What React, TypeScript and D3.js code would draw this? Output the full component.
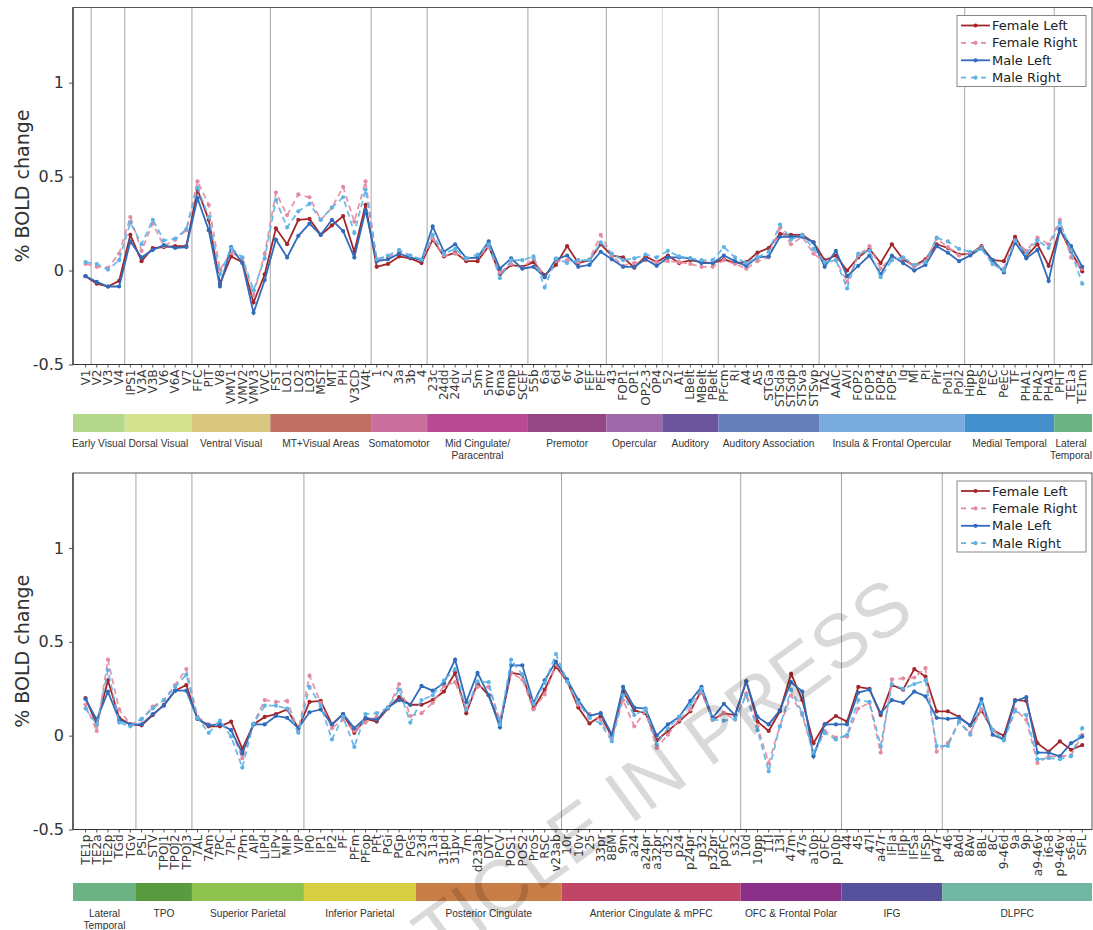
import React, { useEffect, useRef } from 'react';
import * as d3 from 'd3';

// ---- top panel ----
const topLabels = [
  'V1', 'V2', 'V3', 'V4', 'IPS1', 'V3A', 'V3B', 'V6', 'V6A', 'V7',
  'FFC', 'PIT', 'V8', 'VMV1', 'VMV2', 'VMV3', 'VVC', 'FST', 'LO1', 'LO2',
  'LO3', 'MST', 'MT', 'PH', 'V3CD', 'V4t', '1', '2', '3a', '3b',
  '4', '23c', '24dd', '24dv', '5L', '5m', '5mv', '6ma', '6mp', 'SCEF',
  '55b', '6a', '6d', '6r', '6v', 'FEF', 'PEF', '43', 'FOP1', 'OP1',
  'OP2-3', 'OP4', '52', 'A1', 'LBelt', 'MBelt', 'PBelt', 'PFcm', 'RI', 'A4',
  'A5', 'STGa', 'STSda', 'STSdp', 'STSva', 'STSvp', 'TA2', 'AAIC', 'AVI', 'FOP2',
  'FOP3', 'FOP4', 'FOP5', 'Ig', 'MI', 'PI', 'Pir', 'PoI1', 'PoI2', 'Hipp',
  'PreS', 'EC', 'PeEc', 'TF', 'PHA1', 'PHA2', 'PHA3', 'PHT', 'TE1a', 'TE1m',
];

const topFemaleLeft = [
  -0.03, -0.07, -0.085, -0.055, 0.19, 0.05, 0.12, 0.125, 0.13, 0.13,
  0.43, 0.27, -0.07, 0.075, 0.045, -0.17, -0.02, 0.225, 0.14, 0.27,
  0.275, 0.19, 0.24, 0.29, 0.1, 0.35, 0.02, 0.035, 0.075, 0.065,
  0.04, 0.165, 0.075, 0.095, 0.05, 0.05, 0.13, -0.02, 0.03, 0.02,
  0.045, -0.025, 0.03, 0.13, 0.04, 0.055, 0.14, 0.08, 0.07, 0.015,
  0.075, 0.045, 0.08, 0.04, 0.055, 0.045, 0.04, 0.06, 0.04, 0.045,
  0.095, 0.12, 0.195, 0.19, 0.19, 0.15, 0.055, 0.08, 0.0, 0.07,
  0.115, 0.04, 0.14, 0.06, 0.025, 0.06, 0.14, 0.12, 0.085, 0.09,
  0.13, 0.055, 0.05, 0.18, 0.075, 0.14, 0.025, 0.22, 0.1, -0.005,
];
const topFemaleRight = [
  0.035, 0.02, 0.015, 0.09, 0.285, 0.105, 0.25, 0.13, 0.165, 0.215,
  0.475, 0.35, 0.005, 0.095, 0.065, -0.13, 0.09, 0.415, 0.295, 0.405,
  0.39, 0.27, 0.335, 0.445, 0.26, 0.475, 0.055, 0.07, 0.1, 0.08,
  0.055, 0.17, 0.08, 0.09, 0.06, 0.07, 0.125, -0.01, 0.035, 0.015,
  0.065, -0.035, 0.05, 0.055, 0.045, 0.06, 0.19, 0.08, 0.025, 0.04,
  0.055, 0.045, 0.05, 0.045, 0.035, 0.02, 0.02, 0.055, 0.035, 0.01,
  0.05, 0.07, 0.225, 0.14, 0.18, 0.09, 0.045, 0.055, -0.06, 0.08,
  0.13, 0.01, 0.07, 0.065, 0.02, 0.05, 0.17, 0.125, 0.08, 0.09,
  0.125, 0.035, 0.01, 0.16, 0.105, 0.175, 0.14, 0.27, 0.07, 0.01,
];
const topMaleLeft = [
  -0.03, -0.06, -0.085, -0.085, 0.155, 0.07, 0.11, 0.135, 0.12, 0.125,
  0.385, 0.215, -0.085, 0.125, 0.04, -0.225, -0.05, 0.165, 0.07, 0.185,
  0.25, 0.19, 0.27, 0.21, 0.07, 0.32, 0.05, 0.06, 0.09, 0.07,
  0.055, 0.235, 0.1, 0.14, 0.065, 0.07, 0.155, 0.01, 0.065, 0.01,
  0.02, -0.035, 0.06, 0.08, 0.02, 0.03, 0.1, 0.06, 0.02, 0.02,
  0.06, 0.025, 0.07, 0.07, 0.065, 0.04, 0.04, 0.08, 0.05, 0.025,
  0.07, 0.075, 0.18, 0.18, 0.18, 0.15, 0.02, 0.105, -0.03, 0.025,
  0.08, -0.02, 0.08, 0.04, 0.0, 0.03, 0.13, 0.095, 0.05, 0.08,
  0.12, 0.055, -0.01, 0.15, 0.065, 0.11, -0.055, 0.215, 0.13, 0.02,
];
const topMaleRight = [
  0.045, 0.035, 0.005, 0.055, 0.255, 0.14, 0.27, 0.16, 0.17, 0.22,
  0.44, 0.285, -0.02, 0.12, 0.07, -0.105, 0.065, 0.375, 0.23, 0.315,
  0.355, 0.27, 0.335, 0.39, 0.2, 0.43, 0.06, 0.08, 0.11, 0.08,
  0.06, 0.19, 0.09, 0.115, 0.065, 0.085, 0.14, -0.04, 0.055, 0.055,
  0.075, -0.09, 0.065, 0.04, 0.055, 0.055, 0.15, 0.09, 0.055, 0.065,
  0.085, 0.07, 0.105, 0.075, 0.065, 0.055, 0.055, 0.125, 0.07, 0.04,
  0.07, 0.1, 0.245, 0.165, 0.19, 0.115, 0.045, 0.055, -0.095, 0.09,
  0.105, -0.035, 0.055, 0.07, 0.03, 0.045, 0.175, 0.155, 0.115, 0.1,
  0.115, 0.035, 0.0, 0.16, 0.09, 0.16, 0.12, 0.255, 0.105, -0.07,
];

const topGroups = [
  { name: 'Early Visual', count: 4, color: '#b5d78c' },
  { name: 'Dorsal Visual', count: 6, color: '#d5e28f' },
  { name: 'Ventral Visual', count: 7, color: '#d9c67f' },
  { name: 'MT+Visual Areas', count: 9, color: '#c06f63' },
  { name: 'Somatomotor', count: 5, color: '#c86f9e' },
  { name: 'Mid Cingulate/\nParacentral', count: 9, color: '#b84a93' },
  { name: 'Premotor', count: 7, color: '#934784' },
  { name: 'Opercular', count: 5, color: '#9e69a8' },
  { name: 'Auditory', count: 5, color: '#6b549c' },
  { name: 'Auditory Association', count: 9, color: '#667fba' },
  { name: 'Insula & Frontal Opercular', count: 13, color: '#7aabde' },
  { name: 'Medial Temporal', count: 8, color: '#4490cc' },
  { name: 'Lateral\nTemporal', count: 3, color: '#6cb282' },
];
// separator lines drawn after these indices
const topDividers = [0, 3, 9, 16, 25, 30, 39, 46, 51, 56, 65, 78, 86];
const topFaintDividers = [51];

// ---- bottom panel ----
const bottomLabels = [
  'TE1p', 'TE2a', 'TE2p', 'TGd', 'TGv', 'PSL', 'STV', 'TPOJ1', 'TPOJ2', 'TPOJ3',
  '7AL', '7Am', '7PC', '7PL', '7Pm', 'AIP', 'LIPd', 'LIPv', 'MIP', 'VIP',
  'IP0', 'IP1', 'IP2', 'PF', 'PFm', 'PFop', 'PFt', 'PGi', 'PGp', 'PGs',
  '23d', '31a', '31pd', '31pv', '7m', 'd23ab', 'DVT', 'PCV', 'POS1', 'POS2',
  'ProS', 'RSC', 'v23ab', '10r', '10v', '25', '33pr', '8BM', '9m', 'a24',
  'a24pr', 'a32pr', 'd32', 'p24', 'p24pr', 'p32', 'p32pr', 'pOFC', 's32', '10d',
  '10pp', '11l', '13l', '47m', '47s', 'a10p', 'OFC', 'p10p', '44', '45',
  '47l', 'a47r', 'IFJa', 'IFJp', 'IFSa', 'IFSp', 'p47r', '46', '8Ad', '8Av',
  '8BL', '8C', '9-46d', '9a', '9p', 'a9-46v', 'i6-8', 'p9-46v', 's6-8', 'SFL',
];

const bottomFemaleLeft = [
  0.2, 0.06, 0.295, 0.095, 0.06, 0.055, 0.11, 0.165, 0.24, 0.27,
  0.09, 0.05, 0.05, 0.075, -0.07, 0.06, 0.1, 0.115, 0.14, 0.04,
  0.18, 0.185, 0.06, 0.115, 0.015, 0.09, 0.075, 0.145, 0.205, 0.165,
  0.165, 0.19, 0.235, 0.335, 0.12, 0.28, 0.215, 0.06, 0.335, 0.325,
  0.145, 0.245, 0.37, 0.29, 0.15, 0.065, 0.105, -0.005, 0.235, 0.135,
  0.12, -0.025, 0.025, 0.075, 0.13, 0.24, 0.085, 0.12, 0.11, 0.29,
  0.075, 0.025, 0.13, 0.33, 0.19, -0.04, 0.06, 0.105, 0.075, 0.26,
  0.25, 0.11, 0.27, 0.245, 0.355, 0.315, 0.13, 0.13, 0.1, 0.055,
  0.135, 0.03, 0.0, 0.19, 0.185, -0.04, -0.085, -0.03, -0.075, -0.05,
];
const bottomFemaleRight = [
  0.165, 0.025, 0.405, 0.14, 0.06, 0.085, 0.155, 0.19, 0.27, 0.355,
  0.1, 0.06, 0.065, 0.03, -0.12, 0.065, 0.19, 0.18, 0.185, 0.025,
  0.32, 0.175, 0.04, 0.085, 0.025, 0.07, 0.1, 0.145, 0.275, 0.105,
  0.12, 0.175, 0.265, 0.285, 0.145, 0.26, 0.26, 0.085, 0.335, 0.3,
  0.14, 0.22, 0.38, 0.29, 0.165, 0.115, 0.085, -0.015, 0.19, 0.05,
  0.13, -0.065, 0.005, 0.085, 0.14, 0.23, 0.085, 0.12, 0.085, 0.225,
  0.05, -0.145, 0.05, 0.215, 0.11, -0.1, 0.025, -0.01, -0.005, 0.145,
  0.175, -0.09, 0.3, 0.305, 0.31, 0.36, -0.085, -0.04, 0.075, 0.015,
  0.14, 0.03, -0.02, 0.14, 0.085, -0.145, -0.11, -0.11, -0.105, 0.005,
];
const bottomMaleLeft = [
  0.195, 0.085, 0.235, 0.085, 0.06, 0.06, 0.115, 0.16, 0.24, 0.24,
  0.09, 0.055, 0.06, 0.03, -0.095, 0.06, 0.06, 0.105, 0.095, 0.04,
  0.125, 0.14, 0.06, 0.115, 0.04, 0.095, 0.085, 0.15, 0.19, 0.165,
  0.265, 0.24, 0.28, 0.405, 0.18, 0.335, 0.215, 0.045, 0.375, 0.375,
  0.175, 0.295, 0.395, 0.3, 0.19, 0.105, 0.12, 0.005, 0.26, 0.15,
  0.145, 0.0, 0.06, 0.1, 0.185, 0.26, 0.095, 0.17, 0.11, 0.29,
  0.1, 0.06, 0.135, 0.285, 0.235, -0.11, 0.06, 0.06, 0.06, 0.23,
  0.245, 0.12, 0.19, 0.175, 0.235, 0.21, 0.095, 0.09, 0.095, 0.055,
  0.195, 0.005, -0.02, 0.185, 0.205, -0.09, -0.09, -0.11, -0.04, -0.005,
];
const bottomMaleRight = [
  0.145, 0.06, 0.35, 0.07, 0.05, 0.09, 0.145, 0.19, 0.26, 0.325,
  0.095, 0.015, 0.08, -0.005, -0.17, 0.065, 0.16, 0.16, 0.145, 0.015,
  0.26, 0.16, -0.02, 0.1, -0.06, 0.115, 0.12, 0.15, 0.245, 0.07,
  0.19, 0.215, 0.295, 0.355, 0.14, 0.29, 0.285, 0.06, 0.405, 0.325,
  0.17, 0.28, 0.435, 0.29, 0.175, 0.095, 0.065, -0.03, 0.215, 0.11,
  0.14, -0.045, 0.04, 0.1, 0.165, 0.25, 0.085, 0.08, 0.09, 0.215,
  0.03, -0.19, 0.05, 0.245, 0.12, -0.09, 0.015, -0.02, 0.005, 0.19,
  0.18, -0.055, 0.275, 0.25, 0.275, 0.295, -0.055, -0.055, 0.075, 0.005,
  0.175, 0.03, -0.025, 0.13, 0.11, -0.125, -0.12, -0.125, -0.11, 0.04,
];

const bottomGroups = [
  { name: 'Lateral\nTemporal', count: 5, color: '#6cb282' },
  { name: 'TPO', count: 5, color: '#5a9a40' },
  { name: 'Superior Parietal', count: 10, color: '#8ec24e' },
  { name: 'Inferior Parietal', count: 10, color: '#d8cf42' },
  { name: 'Posterior Cingulate', count: 13, color: '#c97e48' },
  { name: 'Anterior Cingulate & mPFC', count: 16, color: '#c04567' },
  { name: 'OFC & Frontal Polar', count: 9, color: '#8b3089' },
  { name: 'IFG', count: 9, color: '#56519c' },
  { name: 'DLPFC', count: 13, color: '#71b5a3' },
];
const bottomDividers = [4, 9, 19, 42, 58, 67, 76];

const seriesNames = ['Female Left', 'Female Right', 'Male Left', 'Male Right'];
const seriesColors = ['#a3262a', '#e38ba0', '#2f6cbb', '#5db3e6'];
const seriesDashed = [false, true, false, true];
const yTicks = [-0.5, 0, 0.5, 1];

const BrainBoldChart = () => {
  const svgRef = useRef(null);

  useEffect(() => {
    document.body.style.margin = '0';
    const width = 1093;
    const height = 930;
    const plotLeft = 73;
    const plotRight = 1092;

    const svg = d3.select(svgRef.current);
    svg.selectAll('*').remove();
    svg.attr('width', width).attr('height', height);

    svg.append('rect').attr('width', width).attr('height', height).attr('fill', '#fff');

    const x = d3.scaleLinear().domain([-1.12, 89.87]).range([plotLeft, plotRight]);

    const drawPanel = (panel) => {
      const y = d3.scaleLinear().domain([-0.5, 1.4]).range([panel.bottom, panel.top]);
      const g = svg.append('g');

      // group separators
      panel.dividers.forEach(d => {
        g.append('line')
          .attr('x1', x(d + 0.5)).attr('x2', x(d + 0.5))
          .attr('y1', panel.top).attr('y2', panel.bottom)
          .attr('stroke', panel.faint.includes(d) ? '#d8d8d8' : '#a6a6a6')
          .attr('stroke-width', 1);
      });

      // y axis
      const yAxis = g.append('g')
        .attr('transform', `translate(${plotLeft},0)`)
        .call(d3.axisLeft(y).tickValues(yTicks).tickSize(4).tickFormat(d => String(d)));
      yAxis.select('.domain').remove();
      yAxis.selectAll('line').attr('stroke', '#555');
      yAxis.selectAll('text')
        .attr('font-family', 'DejaVu Sans, sans-serif')
        .attr('font-size', 16)
        .attr('fill', '#333')
        .attr('dx', '-2');

      g.append('text')
        .attr('transform', `translate(22,${(panel.top + panel.bottom) / 2}) rotate(-90)`)
        .attr('text-anchor', 'middle')
        .attr('dominant-baseline', 'central')
        .attr('font-family', 'DejaVu Sans, sans-serif')
        .attr('font-size', 19)
        .attr('fill', '#333')
        .text('% BOLD change');

      // x ticks and labels
      panel.labels.forEach((lab, i) => {
        g.append('line')
          .attr('x1', x(i)).attr('x2', x(i))
          .attr('y1', panel.bottom).attr('y2', panel.bottom + 3)
          .attr('stroke', '#555');
        g.append('text')
          .attr('transform', `translate(${x(i)},${panel.bottom}) rotate(-90)`)
          .attr('x', -5)
          .attr('dy', '0.35em')
          .attr('text-anchor', 'end')
          .attr('font-family', 'DejaVu Sans, sans-serif')
          .attr('font-size', 12)
          .attr('fill', '#3a3a3a')
          .text(lab);
      });

      // frame
      g.append('rect')
        .attr('x', plotLeft).attr('y', panel.top)
        .attr('width', plotRight - plotLeft).attr('height', panel.bottom - panel.top)
        .attr('fill', 'none').attr('stroke', '#555').attr('stroke-width', 1);
      g.append('line')
        .attr('x1', plotLeft).attr('x2', plotLeft)
        .attr('y1', panel.top).attr('y2', panel.bottom)
        .attr('stroke', '#333').attr('stroke-width', 1.2);
      g.append('line')
        .attr('x1', plotLeft).attr('x2', plotRight)
        .attr('y1', panel.bottom).attr('y2', panel.bottom)
        .attr('stroke', '#333').attr('stroke-width', 1.2);

      // series
      const line = d3.line().x((d, i) => x(i)).y(d => y(d));
      panel.series.forEach((values, s) => {
        g.append('path')
          .datum(values)
          .attr('d', line)
          .attr('fill', 'none')
          .attr('stroke', seriesColors[s])
          .attr('stroke-width', 1.8)
          .attr('stroke-dasharray', seriesDashed[s] ? '6,4' : null)
          .attr('stroke-opacity', seriesDashed[s] ? 0.9 : 1);
        g.append('g').selectAll('circle')
          .data(values)
          .enter()
          .append('circle')
          .attr('cx', (d, i) => x(i))
          .attr('cy', d => y(d))
          .attr('r', 2.1)
          .attr('fill', seriesColors[s]);
      });

      // legend
      const lg = g.append('g').attr('transform', `translate(957,${panel.top + 8})`);
      lg.append('rect')
        .attr('width', 129).attr('height', 71)
        .attr('fill', '#fff').attr('stroke', '#888').attr('stroke-width', 1);
      seriesNames.forEach((name, s) => {
        const ly = 10 + s * 17.4;
        lg.append('line')
          .attr('x1', 4).attr('x2', 33)
          .attr('y1', ly).attr('y2', ly)
          .attr('stroke', seriesColors[s])
          .attr('stroke-width', 1.8)
          .attr('stroke-dasharray', seriesDashed[s] ? '5,5' : null);
        lg.append('circle').attr('cx', 18.5).attr('cy', ly).attr('r', 2.1).attr('fill', seriesColors[s]);
        lg.append('text')
          .attr('x', 35).attr('y', ly)
          .attr('dominant-baseline', 'central')
          .attr('font-family', 'DejaVu Sans, sans-serif')
          .attr('font-size', 13)
          .attr('fill', '#222')
          .text(name);
      });

      // region colour bar
      let start = 0;
      panel.groups.forEach((grp, k) => {
        const end = start + grp.count;
        const x0 = k === 0 ? plotLeft : x(start - 0.5);
        const x1 = k === panel.groups.length - 1 ? plotRight : x(end - 0.5);
        svg.append('rect')
          .attr('x', x0).attr('y', panel.barY)
          .attr('width', x1 - x0).attr('height', 18)
          .attr('fill', grp.color);
        // keep the last label inside the page
        const cx = Math.min((x0 + x1) / 2, width - 22);
        const t = svg.append('text')
          .attr('x', cx).attr('y', panel.labelY)
          .attr('text-anchor', 'middle')
          .attr('font-family', 'Liberation Sans, Arial, sans-serif')
          .attr('font-size', 10.2)
          .attr('fill', '#333');
        grp.name.split('\n').forEach((ln, j) => {
          t.append('tspan')
            .attr('x', cx)
            .attr('dy', j === 0 ? '0.35em' : '1.2em')
            .text(ln);
        });
        start = end;
      });
    };

    drawPanel({
      top: 7.5, bottom: 364.5, barY: 414, labelY: 443,
      labels: topLabels,
      series: [topFemaleLeft, topFemaleRight, topMaleLeft, topMaleRight],
      groups: topGroups, dividers: topDividers, faint: topFaintDividers,
    });
    drawPanel({
      top: 473, bottom: 829.5, barY: 883, labelY: 913,
      labels: bottomLabels,
      series: [bottomFemaleLeft, bottomFemaleRight, bottomMaleLeft, bottomMaleRight],
      groups: bottomGroups, dividers: bottomDividers, faint: [],
    });

    // "in press" watermark
    svg.append('text')
      .attr('transform', 'translate(620,800) rotate(-36)')
      .attr('text-anchor', 'middle')
      .attr('dominant-baseline', 'central')
      .attr('font-family', 'Liberation Sans, Arial, sans-serif')
      .attr('font-size', 76)
      .attr('fill', '#000')
      .attr('fill-opacity', 0.15)
      .text('ARTICLE IN PRESS');
  }, []);

  return <svg ref={svgRef} style={{ display: 'block' }}></svg>;
};

export default BrainBoldChart;
